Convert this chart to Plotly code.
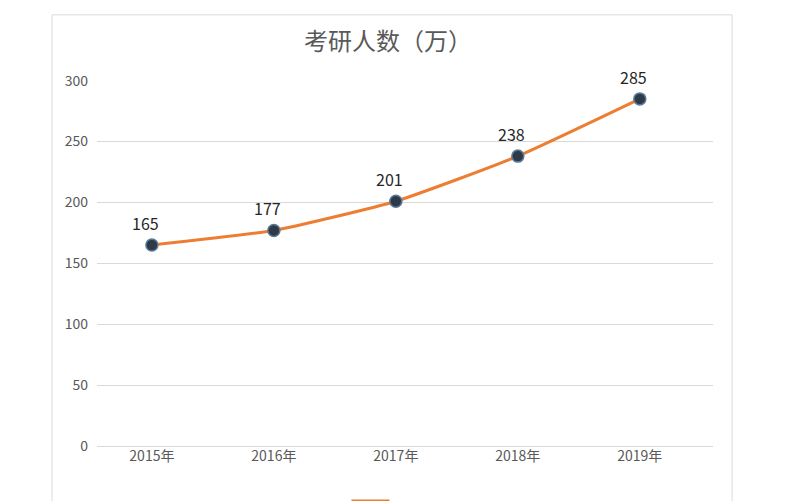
import plotly.graph_objects as go

# 数据
years = ['2015年', '2016年', '2017年', '2018年', '2019年']
counts = [165, 177, 201, 238, 285]
y_ticks = [0, 50, 100, 150, 200, 250, 300]

ORANGE = '#ED7D31'
GRAY = '#595959'
CJK = 'Noto Sans CJK SC'

fig = go.Figure()
fig.add_trace(go.Scatter(
    x=years, y=counts, mode='lines+markers', showlegend=False,
    line=dict(color=ORANGE, width=3, shape='spline', smoothing=0.5),
    marker=dict(size=12, color='#2E3A48', line=dict(color='#5B7A99', width=1.5)),
    hoverinfo='skip',
))
# 图例只露出一截线
fig.add_trace(go.Scatter(x=[None], y=[None], mode='lines', name=' ',
                         line=dict(color=ORANGE, width=3)))

# 数据标签
for yr, v in zip(years, counts):
    fig.add_annotation(x=yr, y=v, text=str(v), showarrow=False,
                       xshift=-6, yshift=22,
                       font=dict(family=CJK, size=16, color='#262626'))

# 外框
fig.add_shape(type='rect', xref='paper', yref='paper',
              x0=-0.073, x1=1.031, y0=-0.3, y1=1.178,
              line=dict(color='#D9D9D9', width=1), layer='below')

# 页面有 8px 的默认边距，这里整体往左上挪一点
fig.update_layout(
    width=812, height=501,
    margin=dict(l=89, r=107, t=72, b=63, autoexpand=False),
    paper_bgcolor='white', plot_bgcolor='white',
    title=dict(text='考研人数（万）', x=0.4725, xref='paper', xanchor='center',
               y=1 - 34 / 501, yanchor='middle',
               font=dict(family=CJK, size=24, color=GRAY)),
    xaxis=dict(type='category', range=[-0.45, 4.6], showgrid=False,
               showline=False, ticks='', zeroline=False,
               tickfont=dict(family=CJK, size=14, color=GRAY)),
    yaxis=dict(range=[0, 300.5], tickvals=y_ticks, showgrid=True,
               gridcolor='#D9D9D9', gridwidth=1,
               zeroline=True, zerolinecolor='#D9D9D9', zerolinewidth=1,
               showline=False, ticks='', ticklabelstandoff=8,
               tickfont=dict(family=CJK, size=14, color=GRAY)),
    showlegend=True,
    legend=dict(orientation='h', x=0.405, xanchor='left',
                y=(446 - 501) / 366, yanchor='middle', itemwidth=38,
                font=dict(family=CJK, size=12, color=GRAY)),
)

fig.write_html('out.html')
